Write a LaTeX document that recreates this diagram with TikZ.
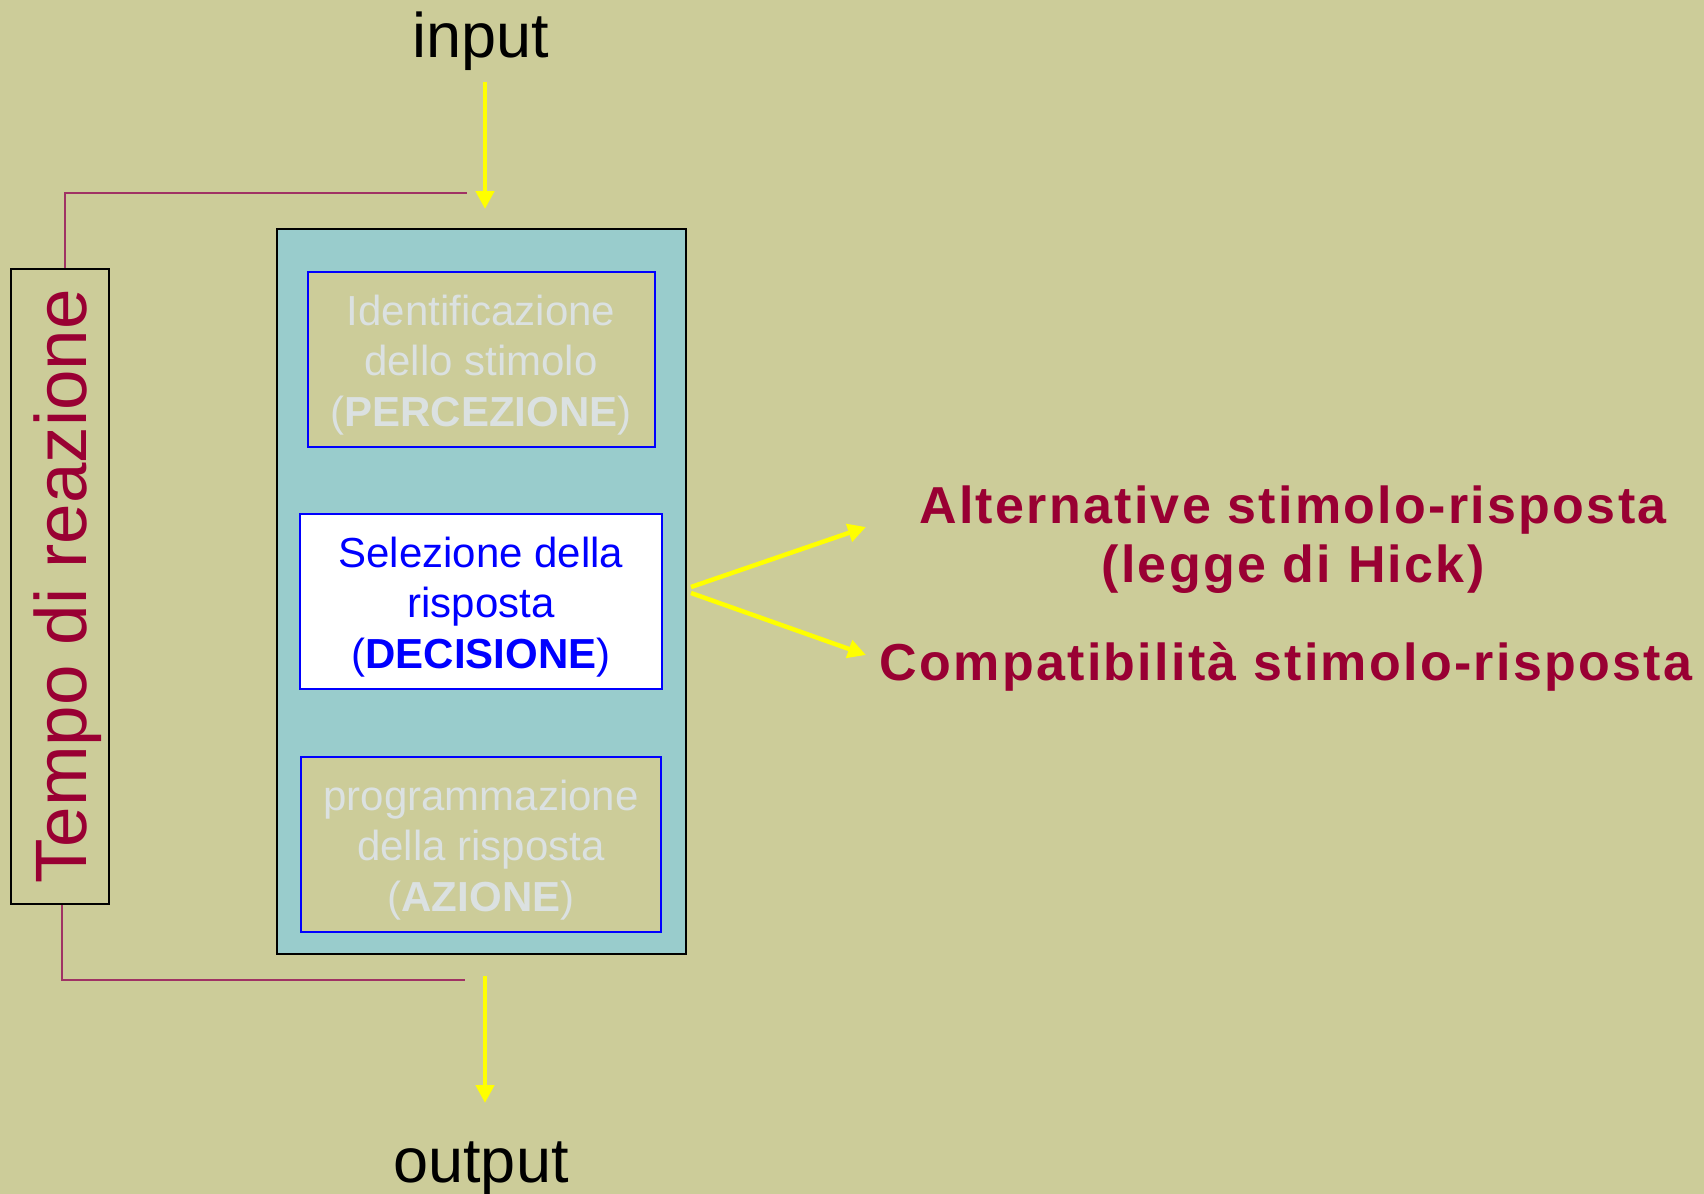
\documentclass[tikz,border=0pt]{standalone}
\usepackage{fontspec}
\setmainfont{Liberation Sans}
\usetikzlibrary{arrows.meta}
\definecolor{bgol}{RGB}{204,204,153}
\definecolor{tealfill}{RGB}{153,204,204}
\definecolor{palegrey}{RGB}{219,225,225}
\definecolor{wine}{RGB}{153,0,51}
\definecolor{brk}{RGB}{160,50,100}
\definecolor{pureblue}{RGB}{0,0,255}
\definecolor{yel}{RGB}{255,255,0}
\newcommand{\stagetext}[1]{\raisebox{-3pt}[\height][\depth]{\begin{tabular}{@{}c@{}}#1\end{tabular}}}
\tikzset{
  stagebox/.style={draw=pureblue, line width=1pt, inner sep=0pt, align=center,
    minimum height=87.5pt, font=\fontsize{21pt}{25.25pt}\selectfont},
  yarrow/.style={draw=yel, line width=2.25pt, -{Triangle[width=9pt,length=9pt]}},
  bracket/.style={draw=brk, line width=1pt},
  redtext/.style={text=wine, align=center,
    font=\fontsize{26pt}{29.5pt}\selectfont\bfseries\addfontfeature{LetterSpace=4.4}},
  iotext/.style={font=\fontsize{31.5pt}{36pt}\selectfont, text=black, inner sep=0pt}
}
\begin{document}
\begin{tikzpicture}[x=0.5pt,y=-0.5pt]
\fill[bgol] (0,0) rectangle (1704,1194);
\useasboundingbox (0,0) rectangle (1704,1194);

% outer container
\node[draw=black, line width=1pt, fill=tealfill, minimum width=204.5pt, minimum height=362.5pt, inner sep=0pt]
  (outer) at (481.5,591.5) {};

\node[stagebox, fill=bgol, text=palegrey, minimum width=173.5pt] (perc) at (481,359.5)
  {\stagetext{Identificazione\\dello stimolo\\(\textbf{PERCEZIONE})}};
\node[stagebox, fill=white, text=pureblue, minimum width=181pt] (dec) at (481,601.5)
  {\stagetext{Selezione della\\risposta\\(\textbf{DECISIONE})}};
\node[stagebox, fill=bgol, text=palegrey, minimum width=180pt] (act) at (481,844.5)
  {\stagetext{programmazione\\della risposta\\(\textbf{AZIONE})}};

% reaction time box
\node[draw=black, line width=1pt, minimum width=49pt, minimum height=317.5pt, inner sep=0pt] (tempo) at (60,586.5) {};
\node[rotate=90, text=wine, font=\fontsize{36.4pt}{41pt}\selectfont, inner sep=0pt] (tempotxt) at (68,586.5) {Tempo di reazione};

% input / output
\node[iotext] (input) at (481,41.5) {input};
\node[iotext] (output) at (481,1169) {output};

\coordinate (inA) at (485,82);
\coordinate (inB) at (485,209);
\coordinate (outA) at (485,976);
\coordinate (outB) at (485,1103);
\draw[yarrow] (inA) -- (inB);
\draw[yarrow] (outA) -- (outB);

% brackets
\coordinate (topR) at (467,193);
\coordinate (botR) at (465,980);
\draw[bracket] ([xshift=2.5pt]tempo.north) |- (topR);
\draw[bracket] ([xshift=1pt]tempo.south) |- (botR);

% right texts
\node[redtext] (alt) at (1293,539.5) {Alternative stimolo-risposta\\(legge di Hick)};
\node[redtext] (comp) at (1286,666.5) {Compatibilità stimolo-risposta};

\coordinate (forkA) at (691,587);
\coordinate (forkB) at (691,593);
\coordinate (tipA) at (866,527);
\coordinate (tipB) at (866,655);
\draw[yarrow] (forkA) -- (tipA);
\draw[yarrow] (forkB) -- (tipB);
\end{tikzpicture}
\end{document}
